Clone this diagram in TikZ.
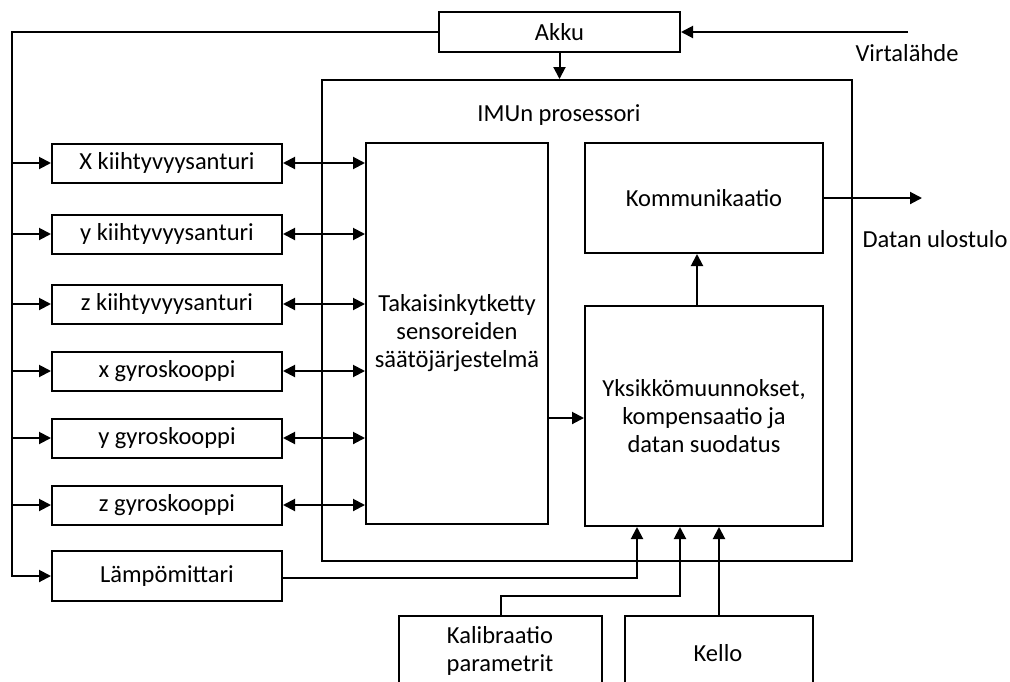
\documentclass[tikz,border=0pt]{standalone}
\usepackage{fontspec}
\setmainfont{Carlito}
\usetikzlibrary{arrows.meta}
\begin{document}
\begin{tikzpicture}[x=1pt,y=-1pt,
  every node/.style={font=\fontsize{24.5}{28}\selectfont},
  blk/.style={draw,line width=2pt,inner sep=0pt,align=center},
  lbl/.style={inner sep=0pt,align=center},
  ln/.style={line width=2pt},
  arr/.style={line width=2pt,-{Triangle[length=12pt,width=12pt]}},
  arrb/.style={line width=2pt,{Triangle[length=12pt,width=12pt]}-{Triangle[length=12pt,width=12pt]}}]
\useasboundingbox (0,0) rectangle (1010,681);
\clip (0,0) rectangle (1010,681);
% boxes
\node[blk,minimum width=241pt,minimum height=40pt] (akku) at (559.5,32) {Akku};
\node[blk,minimum width=530pt,minimum height=481pt] (imu) at (587,320.5) {};
\node[lbl] (imul) at (559,115) {IMUn prosessori};
\node[blk,minimum width=230pt,minimum height=39pt] (s1) at (167,163) {X kiihtyvyysanturi};
\node[blk,minimum width=230pt,minimum height=39pt] (s2) at (167,234) {y kiihtyvyysanturi};
\node[blk,minimum width=230pt,minimum height=39pt] (s3) at (167,304) {z kiihtyvyysanturi};
\node[blk,minimum width=230pt,minimum height=39pt] (s4) at (167,371) {x gyroskooppi};
\node[blk,minimum width=230pt,minimum height=39pt] (s5) at (167,438) {y gyroskooppi};
\node[blk,minimum width=230pt,minimum height=39pt] (s6) at (167,505) {z gyroskooppi};
\node[blk,minimum width=230pt,minimum height=50pt] (lampo) at (167,576) {Lämpömittari};
\node[blk,minimum width=182pt,minimum height=381pt] (tak) at (457,333.5) {Takaisinkytketty\\sensoreiden\\säätöjärjestelmä};
\node[blk,minimum width=238pt,minimum height=110pt] (komm) at (704,198) {Kommunikaatio};
\node[blk,minimum width=238pt,minimum height=220pt] (yks) at (704,416) {Yksikkömuunnokset,\\kompensaatio ja\\datan suodatus};
\node[draw,line width=2pt,minimum width=203pt,minimum height=84pt,inner sep=0pt] (kal) at (500.5,658) {};
\node[lbl] (kall) at (500,651) {Kalibraatio\\parametrit};
\node[draw,line width=2pt,minimum width=188pt,minimum height=84pt,inner sep=0pt] (kello) at (719,658) {};
\node[lbl] (kellol) at (718,653) {Kello};
% labels
\node[lbl] (virt) at (907,53) {Virtalähde};
\node[lbl] (dout) at (935,239) {Datan ulostulo};
% coordinates
\coordinate (L) at (12,576);
\coordinate (V) at (908,32);
\coordinate (out) at (922,198);
\coordinate (tk) at (548,418);
\coordinate (lx) at (637,578);
\coordinate (kx) at (680,596);
% power
\draw[arr] (V) -- (akku.east);
\draw[arr] (akku.south) -- (akku.south |- imu.north);
\draw[arr] (akku.west) -| (L) -- (lampo.west);
\foreach \s in {s1,s2,s3,s4,s5,s6} {
  \draw[arr] (\s.west -| L) -- (\s.west);
  \draw[arrb] (\s.east) -- (\s.east -| tak.west);
}
% internal
\draw[arr] (tk) -- (tk -| yks.west);
\draw[arr] ([xshift=-7pt]yks.north) -- ([xshift=-7pt]komm.south);
\draw[arr] (komm.east) -- (out);
% bottom inputs
\draw[arr] (lampo.east |- lx) -- (lx) -- (lx |- yks.south);
\draw[arr] (kal.north) |- (kx) -- (kx |- yks.south);
\draw[arr] (kello.north) -- (kello.north |- yks.south);
\end{tikzpicture}
\end{document}
